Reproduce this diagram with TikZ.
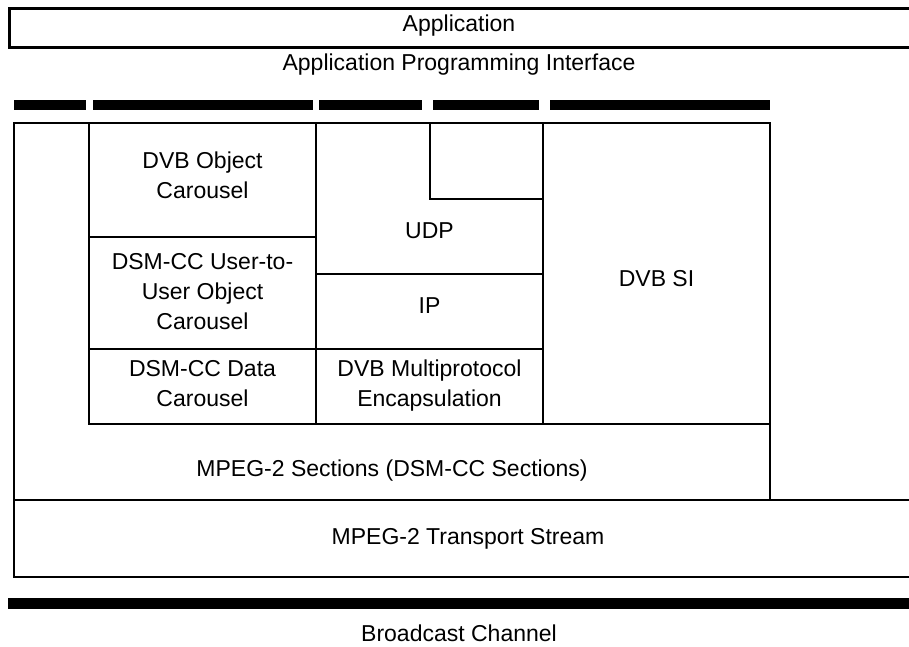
\documentclass[tikz,border=0pt]{standalone}
\usepackage{fontspec}
\setmainfont{Liberation Sans}

\begin{document}
\begin{tikzpicture}[x=1pt, y=-1pt,
      every node/.style = {align=center, inner sep=0pt,
        font=\fontsize{23}{30}\selectfont},
      layer/.style = {line width=2pt},
      apibar/.style = {line width=10pt}]
  \useasboundingbox (0,0) rectangle (909,646);
  % application and api
  \draw[line width=3pt] (925,8.5) -- (9,8.5) -- (9,47) -- (925,47);
  \node[anchor=base] (app) at (459,31) {Application};
  \node[anchor=base] (api) at (459,70.5) {Application Programming Interface};
  \foreach \a/\b in {14/86, 93/313, 319/422, 433/539, 550/770}
    \draw[apibar] (\a,104.5) -- (\b,104.5);
  % protocol stack
  \draw[layer] (14,123) rectangle (770,500);
  \draw[layer] (89,123) -- (89,424) -- (770,424);
  \draw[layer] (316,123) -- (316,424);
  \draw[layer] (543,123) -- (543,424);
  \draw[layer] (89,237) -- (316,237);
  \draw[layer] (89,349) -- (543,349);
  \draw[layer] (316,274) -- (543,274);
  \draw[layer] (430,123) -- (430,199) -- (543,199);
  \node (objcar) at (202.5,175) {DVB Object\\Carousel};
  \node (u2u) at (202.5,292) {DSM-CC User-to-\\User Object\\Carousel};
  \node (datacar) at (202.5,384) {DSM-CC Data\\Carousel};
  \node[anchor=base] (udp) at (429.5,238) {UDP};
  \node[anchor=base] (ip) at (429.5,313) {IP};
  \node (mpe) at (429.5,386) {DVB Multiprotocol\\Encapsulation};
  \node[anchor=base] (si) at (656.5,286) {DVB SI};
  \node[anchor=base] (sections) at (392,476) {MPEG-2 Sections (DSM-CC Sections)};
  % transport stream and channel
  \draw[layer] (925,500) -- (14,500) -- (14,577) -- (925,577);
  \node[anchor=base] (ts) at (468,544) {MPEG-2 Transport Stream};
  \draw[line width=11pt] (8,603.5) -- (925,603.5);
  \node[anchor=base] (channel) at (459,641) {Broadcast Channel};
\end{tikzpicture}
\end{document}
